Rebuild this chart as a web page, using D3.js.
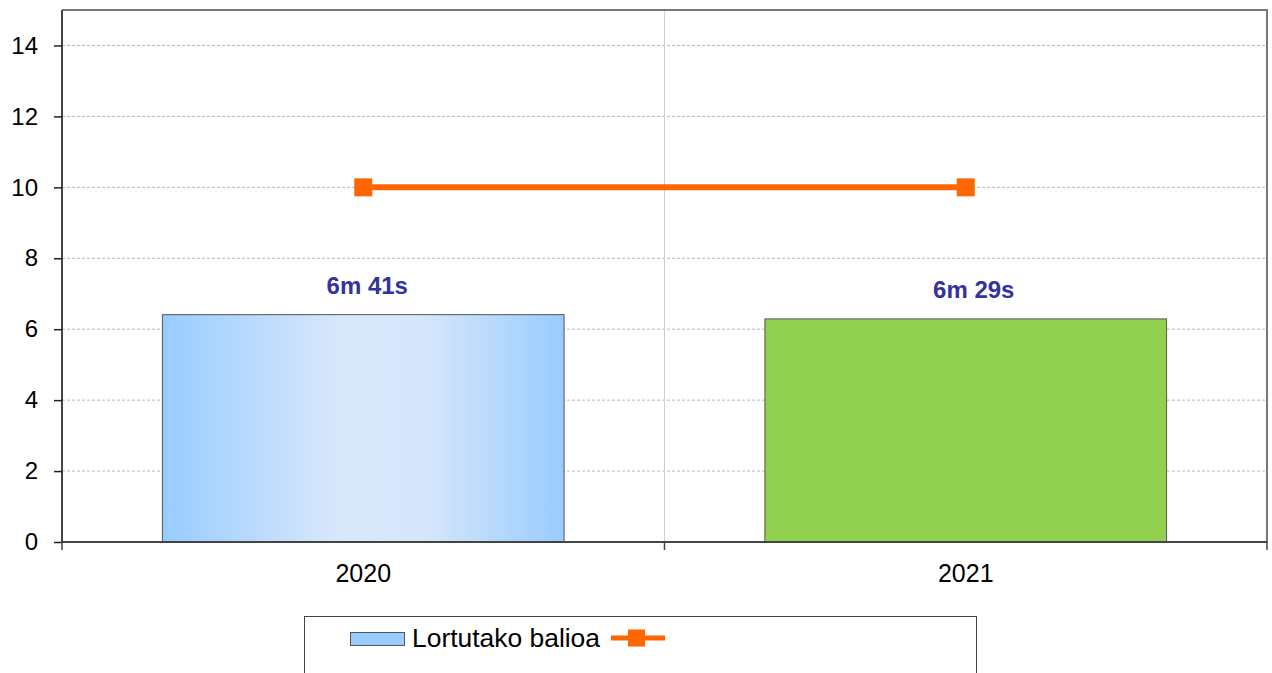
<!DOCTYPE html>
<html><head><meta charset="utf-8">
<script src="https://cdn.jsdelivr.net/npm/d3@7"></script>
<style>body{margin:0;background:#fff;font-family:"Liberation Sans",Arial,sans-serif;}</style>
</head><body>
<svg id="c" width="1272" height="673"></svg>
<script>
const categories = ["2020", "2021"];
const barValues = [6.41, 6.29];
const barLabels = ["6m 41s", "6m 29s"];
const barColors = ["url(#blueGrad)", "#92d050"];
const lineValues = [10, 10];
const yTicks = [0, 2, 4, 6, 8, 10, 12, 14];
const legendLabel = "Lortutako balioa";

const svg = d3.select("#c");
const m = {l: 62, r: 1267, t: 10, b: 542};
const x = d3.scaleBand().domain(categories).range([m.l, m.r]).padding(0);
const y = d3.scaleLinear().domain([0, 15]).range([m.b, m.t]);
const FONT = "Liberation Sans, Arial, sans-serif";

const defs = svg.append("defs");
const g = defs.append("linearGradient").attr("id", "blueGrad").attr("x1", "0").attr("x2", "1").attr("y1", "0").attr("y2", "0");
g.append("stop").attr("offset", "0%").attr("stop-color", "#99ccff");
g.append("stop").attr("offset", "45%").attr("stop-color", "#dae8fb");
g.append("stop").attr("offset", "65%").attr("stop-color", "#d6e6fb");
g.append("stop").attr("offset", "100%").attr("stop-color", "#99ccff");

// horizontal grid
svg.append("g").selectAll("line").data(yTicks.filter(d => d > 0)).join("line")
  .attr("x1", m.l).attr("x2", m.r).attr("y1", d => y(d)).attr("y2", d => y(d))
  .attr("stroke", "#b8b8b8").attr("stroke-width", 1).attr("stroke-dasharray", "3,2");
// vertical grid between categories
svg.append("line").attr("x1", x("2021")).attr("x2", x("2021")).attr("y1", m.t).attr("y2", m.b)
  .attr("stroke", "#d0d0d0").attr("stroke-width", 1);

// frame top/right
svg.append("path").attr("d", `M${m.l},${m.t}H${m.r}V${m.b}`).attr("fill", "none")
  .attr("stroke", "#777").attr("stroke-width", 2);

// bars
const bw = x.bandwidth() * 2 / 3;
svg.append("g").selectAll("rect").data(categories).join("rect")
  .attr("x", d => x(d) + (x.bandwidth() - bw) / 2)
  .attr("width", bw)
  .attr("y", (d, i) => y(barValues[i]))
  .attr("height", (d, i) => y(0) - y(barValues[i]))
  .attr("fill", (d, i) => barColors[i])
  .attr("stroke", "#555").attr("stroke-width", 1);

// bar labels
svg.append("g").selectAll("text").data(categories).join("text")
  .attr("x", (d, i) => x(d) + x.bandwidth() / 2 + 4 + i * 4)
  .attr("y", (d, i) => y(barValues[i]) - 21)
  .attr("text-anchor", "middle")
  .attr("font-size", 24).attr("font-weight", "bold").attr("fill", "#333399")
  .text((d, i) => barLabels[i]);

// line
const cx = d => x(d) + x.bandwidth() / 2;
svg.append("path").datum(categories)
  .attr("d", d3.line().x(d => cx(d)).y((d, i) => y(lineValues[i])))
  .attr("stroke", "#ff6600").attr("stroke-width", 6).attr("fill", "none");
svg.append("g").selectAll("rect").data(categories).join("rect")
  .attr("x", d => cx(d) - 9).attr("y", (d, i) => y(lineValues[i]) - 9)
  .attr("width", 18).attr("height", 18).attr("fill", "#ff6600");

// y axis
const ya = svg.append("g").attr("transform", `translate(${m.l},0)`)
  .call(d3.axisLeft(y).tickValues(yTicks).tickSize(8).tickPadding(16));
ya.select(".domain").attr("stroke", "#444").attr("stroke-width", 2).attr("d", `M0,${m.t}V${m.b}`);
ya.selectAll(".tick line").attr("stroke", "#222").attr("stroke-width", 1.5);
ya.selectAll("text").attr("font-size", 24).attr("fill", "#000").attr("font-family", FONT);

// x axis
const xa = svg.append("g").attr("transform", `translate(0,${m.b})`)
  .call(d3.axisBottom(x).tickSize(0).tickPadding(22));
xa.select(".domain").attr("stroke", "#444").attr("stroke-width", 2).attr("d", `M${m.l},0H${m.r}`);
xa.selectAll("text").attr("font-size", 25).attr("fill", "#000").attr("font-family", FONT);
// tick marks between categories
const sep = [m.l, x("2021"), m.r];
svg.append("g").selectAll("line").data(sep).join("line")
  .attr("x1", d => d).attr("x2", d => d).attr("y1", m.b).attr("y2", m.b + 8)
  .attr("stroke", "#444").attr("stroke-width", 1.5);

// legend
const lg = svg.append("g");
lg.append("rect").attr("x", 304.5).attr("y", 616.5).attr("width", 672).attr("height", 70)
  .attr("fill", "#fff").attr("stroke", "#444").attr("stroke-width", 1);
lg.append("rect").attr("x", 350.5).attr("y", 632.5).attr("width", 54).attr("height", 13)
  .attr("fill", "#99ccff").attr("stroke", "#555").attr("stroke-width", 1);
lg.append("text").attr("x", 412).attr("y", 647).attr("font-size", 25).attr("fill", "#000")
  .attr("textLength", 188).attr("lengthAdjust", "spacingAndGlyphs")
  .text(legendLabel);
lg.append("line").attr("x1", 611).attr("x2", 665).attr("y1", 638).attr("y2", 638)
  .attr("stroke", "#ff6600").attr("stroke-width", 5);
lg.append("rect").attr("x", 628).attr("y", 629.5).attr("width", 17).attr("height", 17).attr("fill", "#ff6600");
</script>
</body></html>
